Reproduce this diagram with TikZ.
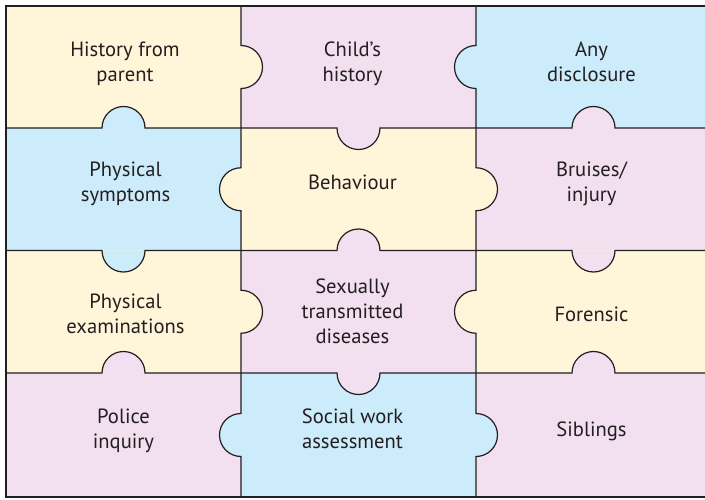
\documentclass[tikz,border=0pt]{standalone}
\usepackage{fontspec}
\setmainfont{PT Sans}
\definecolor{pzY}{HTML}{FFF6DA}
\definecolor{pzP}{HTML}{F2DFEF}
\definecolor{pzB}{HTML}{CCEBFB}
\definecolor{pzL}{HTML}{231F20}
\newcommand\pzlines[1]{\vtop{\halign{\hfil##\hfil\cr#1\crcr}}}
\tikzset{
  edge/.style={draw=pzL,line width=1.2pt},
  frame/.style={draw=pzL,line width=2pt},
  lbl/.style={anchor=base,inner sep=0pt,text=pzL,font=\fontsize{20.6}{25}\selectfont}
}
\def\r{21.5}
\begin{document}
\begin{tikzpicture}[x=1pt,y=1pt]
\useasboundingbox (0,0) rectangle (705,499);
\fill[white] (0,0) rectangle (705,499);
\clip (0,0) rectangle (705,499);
% cells
\fill[pzY] (6,371) rectangle (241,493);
\fill[pzP] (241,371) rectangle (476,493);
\fill[pzB] (476,371) rectangle (711,493);
\fill[pzB] (6,248.5) rectangle (241,371);
\fill[pzY] (241,248.5) rectangle (476,371);
\fill[pzP] (476,248.5) rectangle (711,371);
\fill[pzY] (6,126) rectangle (241,248.5);
\fill[pzP] (241,126) rectangle (476,248.5);
\fill[pzY] (476,126) rectangle (711,248.5);
\fill[pzP] (6,2) rectangle (241,126);
\fill[pzB] (241,2) rectangle (476,126);
\fill[pzP] (476,2) rectangle (711,126);
% horizontal tabs: centre x / line y / end angle (0 up, 360 down) / colour
\foreach \cx/\Y/\a/\c in {123.5/371/0/pzB, 358.5/371/360/pzP, 593.5/371/0/pzP,
  123.5/248.5/360/pzB, 358.5/248.5/0/pzP, 593.5/248.5/360/pzP,
  123.5/126/0/pzP, 358.5/126/360/pzP, 593.5/126/0/pzP}
  \fill[\c] (\cx-\r,\Y) arc[start angle=180,end angle=\a,radius=\r] -- cycle;
% vertical tabs: line x / centre y / end angle (-90 right, 270 left) / colour
\foreach \X/\cy/\b/\c in {241/432/-90/pzY, 476/432/270/pzB,
  241/309.75/270/pzY, 476/309.75/-90/pzY,
  241/187.25/-90/pzY, 476/187.25/270/pzY,
  241/64/270/pzB, 476/64/-90/pzB}
  \fill[\c] (\X,\cy+\r) arc[start angle=90,end angle=\b,radius=\r] -- cycle;
% horizontal edges
\draw[edge] (6,371) -- (123.5-\r,371) arc[start angle=180,end angle=0,radius=\r]
  -- (358.5-\r,371) arc[start angle=180,end angle=360,radius=\r]
  -- (593.5-\r,371) arc[start angle=180,end angle=0,radius=\r] -- (711,371);
\draw[edge] (6,248.5) -- (123.5-\r,248.5) arc[start angle=180,end angle=360,radius=\r]
  -- (358.5-\r,248.5) arc[start angle=180,end angle=0,radius=\r]
  -- (593.5-\r,248.5) arc[start angle=180,end angle=360,radius=\r] -- (711,248.5);
\draw[edge] (6,126) -- (123.5-\r,126) arc[start angle=180,end angle=0,radius=\r]
  -- (358.5-\r,126) arc[start angle=180,end angle=360,radius=\r]
  -- (593.5-\r,126) arc[start angle=180,end angle=0,radius=\r] -- (711,126);
% vertical edges
\draw[edge] (241,493) -- (241,432+\r) arc[start angle=90,end angle=-90,radius=\r]
  -- (241,309.75+\r) arc[start angle=90,end angle=270,radius=\r]
  -- (241,187.25+\r) arc[start angle=90,end angle=-90,radius=\r]
  -- (241,64+\r) arc[start angle=90,end angle=270,radius=\r] -- (241,2);
\draw[edge] (476,493) -- (476,432+\r) arc[start angle=90,end angle=270,radius=\r]
  -- (476,309.75+\r) arc[start angle=90,end angle=-90,radius=\r]
  -- (476,187.25+\r) arc[start angle=90,end angle=270,radius=\r]
  -- (476,64+\r) arc[start angle=90,end angle=-90,radius=\r] -- (476,2);
% frame
\draw[frame] (6,2) rectangle (711,493);
% labels
\node[lbl] (t1) at (125,442.3) {\pzlines{History from\cr parent}};
\node[lbl] (t2) at (352.5,442.3) {\pzlines{Child’s\cr history}};
\node[lbl] (t3) at (591.5,442.3) {\pzlines{Any\cr disclosure}};
\node[lbl] (t4) at (125.5,322.3) {\pzlines{Physical\cr symptoms}};
\node[lbl] (t5) at (352.5,309) {Behaviour};
\node[lbl] (t6) at (591.5,322.3) {\pzlines{Bruises/\cr injury}};
\node[lbl] (t7) at (125.5,190) {\pzlines{Physical\cr examinations}};
\node[lbl] (t8) at (352.5,205) {\pzlines{Sexually\cr transmitted\cr diseases}};
\node[lbl] (t9) at (591.5,178) {Forensic};
\node[lbl] (t10) at (123.5,75.7) {\pzlines{Police\cr inquiry}};
\node[lbl] (t11) at (352.5,75.7) {\pzlines{Social work\cr assessment}};
\node[lbl] (t12) at (591.5,63) {Siblings};
\end{tikzpicture}
\end{document}
